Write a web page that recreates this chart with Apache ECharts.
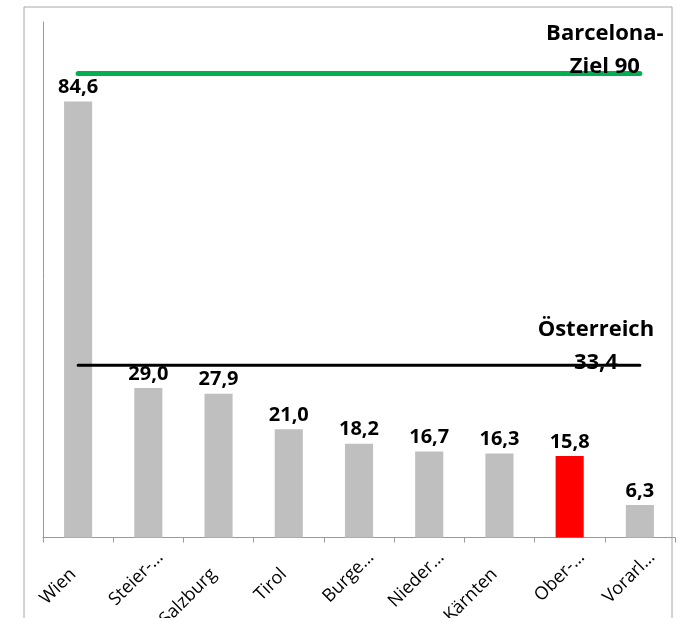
<!DOCTYPE html>
<html>
<head>
<meta charset="utf-8">
<script src="https://cdn.jsdelivr.net/npm/echarts@6/dist/echarts.min.js"></script>
<style>
html,body{margin:0;padding:0;background:#fff;}
#c{width:678px;height:618px;}
</style>
</head>
<body>
<div id="c"></div>
<script>
const categories = ['Wien','Steier-…','Salzburg','Tirol','Burge…','Nieder…','Kärnten','Ober-…','Vorarl…'];
const values = [84.6, 29.0, 27.9, 21.0, 18.2, 16.7, 16.3, 15.8, 6.3];
const highlight = 'Ober-…';
const barcelonaValue = 90;
const austriaValue = 33.4;
const barcelonaLabel = 'Barcelona-\nZiel 90';
const austriaLabel = 'Österreich\n33,4';
const yMin = 0, yMax = 100;

const FONT = '"Open Sans", "Liberation Sans", sans-serif';
const chart = echarts.init(document.getElementById('c'), null, {renderer: 'canvas'});

function refLine(value, color, width, text, offset) {
  const n = categories.length;
  return {
    type: 'line',
    data: categories.map((c, i) => i === n - 1
      ? {value: value, label: {show: true, formatter: text, position: 'inside', offset: offset,
          fontFamily: FONT, fontWeight: 'bold', fontSize: 22, lineHeight: 33, color: '#000', align: 'center'}}
      : value),
    symbol: 'circle',
    symbolSize: 0.5,
    showSymbol: true,
    showAllSymbol: true,
    itemStyle: {color: color},
    lineStyle: {color: color, width: width, cap: 'round'},
    label: {show: false},
    emphasis: {disabled: true},
    silent: true,
    animation: false,
    z: 3
  };
}

const option = {
  animation: false,
  graphic: [{
    type: 'rect',
    shape: {x: 24, y: 7, width: 648, height: 640},
    style: {fill: 'none', stroke: '#a6a6a6', lineWidth: 1},
    silent: true, z: -1
  }],
  grid: {left: 43, right: 3, top: 22, bottom: 80.5, containLabel: false, outerBoundsMode: 'none'},
  xAxis: {
    type: 'category',
    data: categories,
    axisLine: {lineStyle: {color: '#9a9a9a', width: 1}},
    axisTick: {show: true, length: 5, lineStyle: {color: '#9a9a9a'}},
    axisLabel: {
      rotate: 45,
      margin: 5,
      interval: 0,
      hideOverlap: false,
      padding: [34, 0, 0, 0],
      fontFamily: FONT,
      fontSize: 18,
      color: '#000',
      formatter: function (v) {
        return v.indexOf('…') >= 0 ? '{t|' + v + '}' : '{f|' + v + '}';
      },
      rich: {
        t: {fontFamily: FONT, fontSize: 18, color: '#000'},
        f: {fontFamily: FONT, fontSize: 18, color: '#000', padding: [0, 24, 0, 0]}
      }
    }
  },
  yAxis: {
    type: 'value',
    min: yMin, max: yMax,
    axisLine: {show: true, lineStyle: {color: '#9a9a9a', width: 1}},
    axisTick: {show: false},
    axisLabel: {show: false},
    splitLine: {show: false}
  },
  series: [
    {
      type: 'bar',
      data: values.map((v, i) => ({value: v, itemStyle: {color: categories[i] === highlight ? '#ff0000' : '#bfbfbf'}})),
      barWidth: '40%',
      label: {
        show: true,
        position: 'top',
        distance: 4,
        fontFamily: FONT,
        fontWeight: 'bold',
        fontSize: 20,
        color: '#000',
        formatter: p => p.value.toFixed(1).replace('.', ',')
      },
      silent: true,
      z: 2
    },
    refLine(barcelonaValue, '#00b050', 5, barcelonaLabel, [-35, -23]),
    refLine(austriaValue, '#000000', 3, austriaLabel, [-44, -19])
  ]
};
chart.setOption(option);
</script>
</body>
</html>
